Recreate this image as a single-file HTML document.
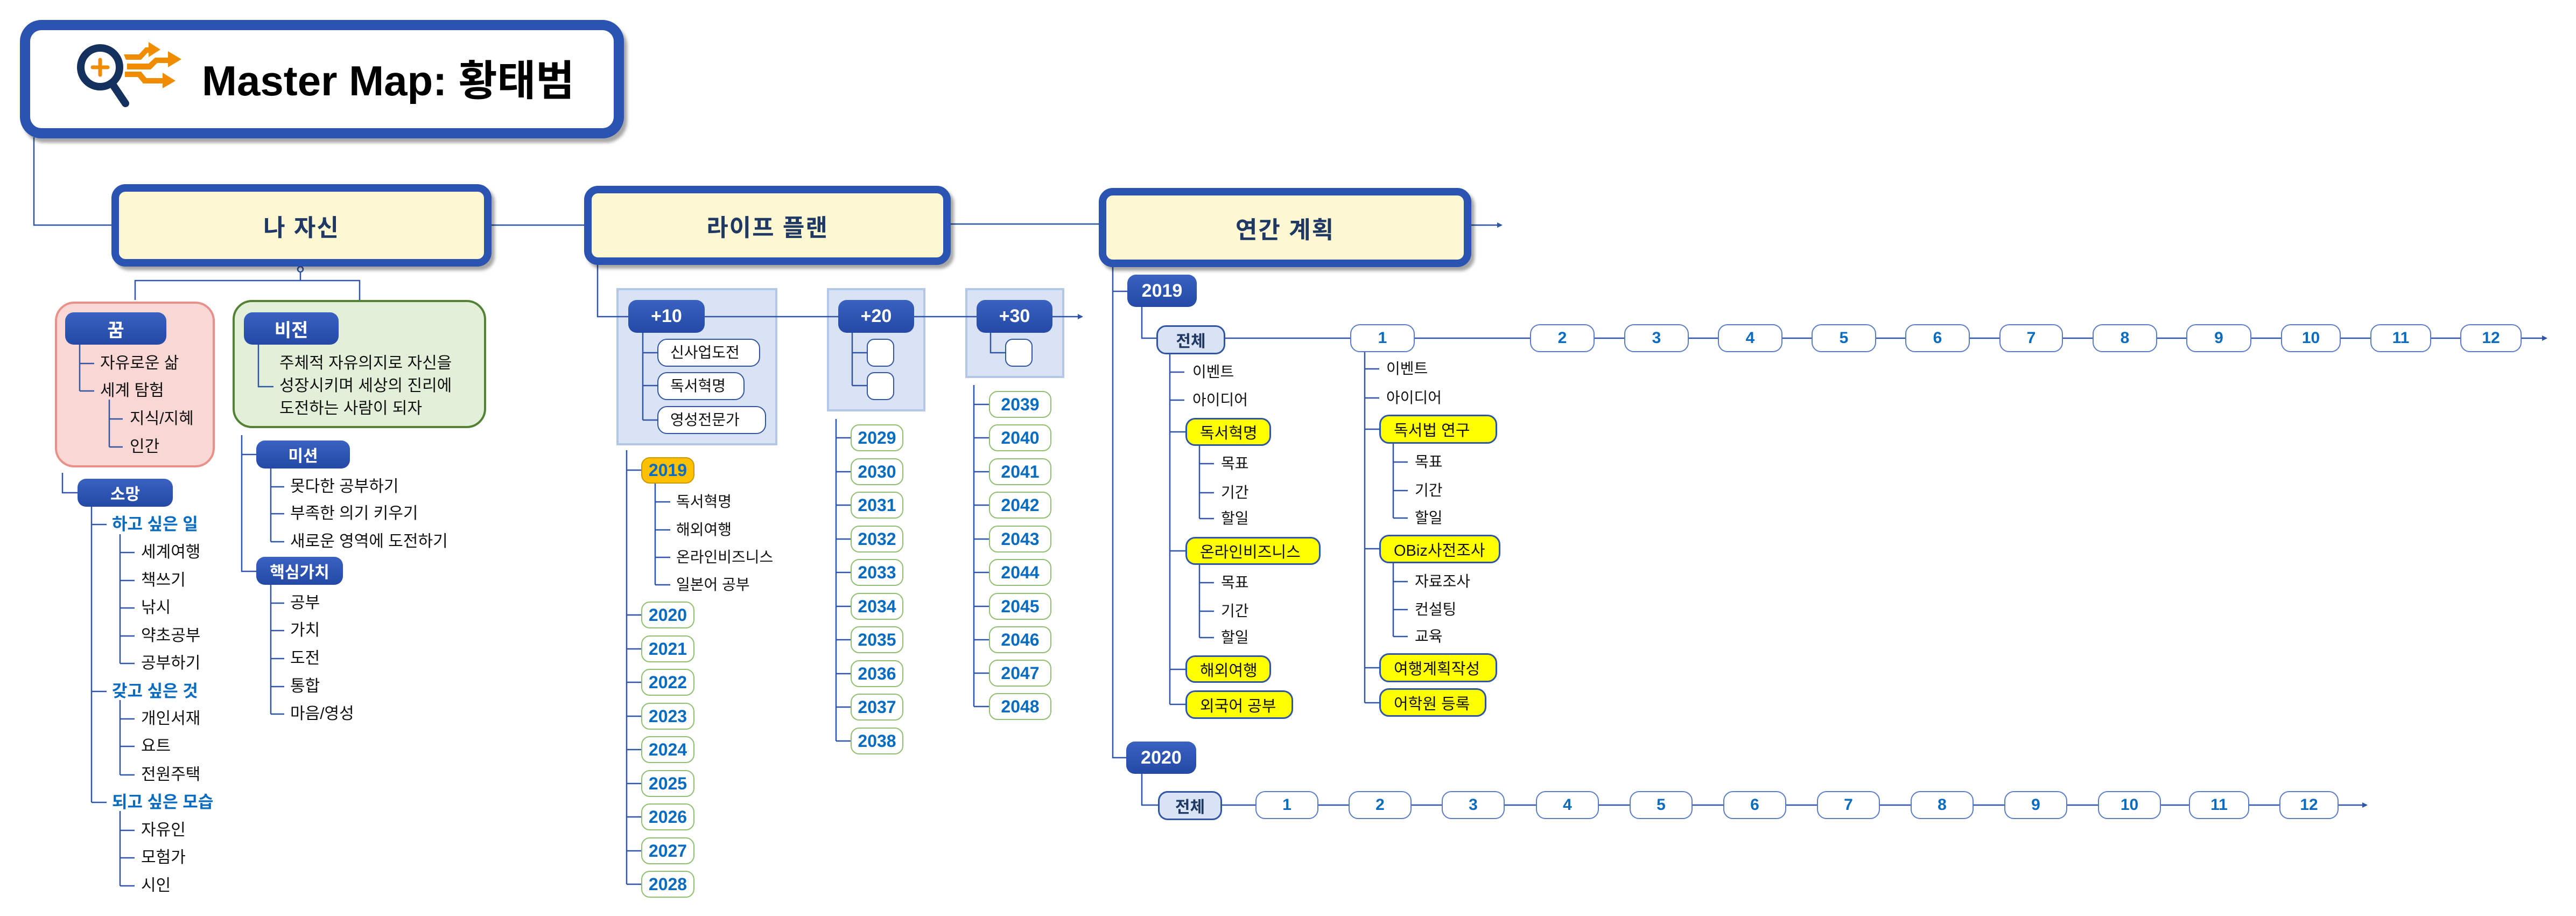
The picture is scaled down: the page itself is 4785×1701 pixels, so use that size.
<!DOCTYPE html>
<html><head><meta charset="utf-8">
<style>
*{margin:0;padding:0;box-sizing:border-box}
body{width:4785px;height:1701px;background:#fff;position:relative;overflow:hidden;font-family:"Liberation Sans","Noto Sans CJK KR",sans-serif;}
.a{position:absolute}
.t{position:absolute;white-space:nowrap;height:40px;line-height:40px;font-size:30px;color:#111}
.r{font-size:28px}
.main{position:absolute;background:#fdf7d2;border:14px solid #2b53b1;border-radius:26px;box-shadow:6px 7px 6px rgba(0,0,0,0.35);display:flex;align-items:center;justify-content:center;font-weight:bold;font-size:44px;color:#1f3864;letter-spacing:2px}
.pill{position:absolute;background:linear-gradient(#3a62c0,#2449a6);border-radius:16px;color:#fff;font-weight:bold;display:flex;align-items:center;justify-content:center;font-size:34px}
.grp{position:absolute;background:#dae3f3;border:4px solid #b4c7e7}
.wb{position:absolute;background:#fff;border:2px solid #2f55a4;border-radius:18px;font-size:28px;line-height:48px;padding-left:22px;color:#111;white-space:nowrap}
.yr{position:absolute;background:#fff;border:2px solid #8fbf6f;border-radius:16px;color:#0a6cc0;font-weight:bold;font-size:32px;display:flex;align-items:center;justify-content:center}
.mo{position:absolute;background:#fff;border:2px solid #5a7cc8;border-radius:18px;color:#0a6cc0;font-weight:bold;font-size:30px;display:flex;align-items:center;justify-content:center}
.yb{position:absolute;background:#ffff00;border:3px solid #2f55a4;border-radius:18px;font-size:29px;color:#111;display:flex;align-items:center;padding-left:24px;white-space:nowrap}
.bl{color:#0a6cc0;font-weight:bold;font-size:31px}
</style></head><body>

<!-- groups behind lines -->
<div class="grp" style="left:1145px;top:535px;width:299px;height:292px"></div>
<div class="grp" style="left:1536px;top:535px;width:183px;height:229px"></div>
<div class="grp" style="left:1793px;top:535px;width:184px;height:167px"></div>

<!-- other boxes behind lines -->
<div class="a" style="left:102px;top:560px;width:297px;height:308px;background:#f8d7d5;border:4px solid #e8908a;border-radius:36px"></div>
<div class="a" style="left:432px;top:557px;width:471px;height:238px;background:#e2f0d9;border:4px solid #548235;border-radius:36px"></div>

<svg class="a" style="left:0;top:0" width="4785" height="1701" viewBox="0 0 4785 1701">
<defs><marker id="ar" markerWidth="10" markerHeight="10" refX="8" refY="5" orient="auto" markerUnits="userSpaceOnUse"><path d="M0,0 L10,5 L0,10 z" fill="#2f55a4"/></marker></defs>
<g stroke="#2f55a4" stroke-width="2.5" fill="none">
<path d="M63 255 V418 H207"/>
<path d="M913 418 H1085"/>
<path d="M558 497 V521 M251 557 V521 H668 V557"/>
<circle cx="558" cy="500" r="5" fill="#fff"/>
<path d="M148 640 V726 M148 675 H175 M148 726 H175"/>
<path d="M203 742 V830 M203 778 H228 M203 830 H228"/>
<path d="M480 640 V718 H508"/>
<path d="M449 808 V1061 H476 M449 844 H476"/>
<path d="M503 870 V1006 M503 904 H528 M503 954 H528 M503 1006 H528"/>
<path d="M503 1086 V1326 M503 1120 H528 M503 1171 H528 M503 1223 H528 M503 1275 H528 M503 1326 H528"/>
<path d="M116 878 V915 H144"/>
<path d="M170 941 V1490 M170 974 H198 M170 1284 H198 M170 1490 H198"/>
<path d="M223 992 V1232 M223 1026 H250 M223 1078 H250 M223 1129 H250 M223 1181 H250 M223 1232 H250"/>
<path d="M223 1300 V1439 M223 1335 H250 M223 1386 H250 M223 1439 H250"/>
<path d="M223 1506 V1645 M223 1542 H250 M223 1593 H250 M223 1645 H250"/>

<path d="M1110 492 V588 H2010" marker-end="url(#ar)"/>
<path d="M1766 416 H2041"/>
<path d="M1194 617 V780 M1194 655 H1221 M1194 716 H1221 M1194 780 H1221"/>
<path d="M1583 617 V716 M1583 655 H1610 M1583 716 H1610"/>
<path d="M1840 617 V655 H1867"/>
<path d="M1164 836 V1642 M1164 873 H1191 M1164 1142 H1191 M1164 1205 H1191 M1164 1267 H1191 M1164 1330 H1191 M1164 1392 H1191 M1164 1455 H1191 M1164 1517 H1191 M1164 1580 H1191 M1164 1642 H1191"/>
<path d="M1217 898 V1086 M1217 932 H1245 M1217 984 H1245 M1217 1035 H1245 M1217 1086 H1245"/>
<path d="M1553 778 V1376 M1553 813 H1580 M1553 876 H1580 M1553 938 H1580 M1553 1001 H1580 M1553 1063 H1580 M1553 1126 H1580 M1553 1188 H1580 M1553 1251 H1580 M1553 1313 H1580 M1553 1376 H1580"/>
<path d="M1809 715 V1312 M1809 751 H1837 M1809 813 H1837 M1809 876 H1837 M1809 938 H1837 M1809 1001 H1837 M1809 1063 H1837 M1809 1126 H1837 M1809 1188 H1837 M1809 1250 H1837 M1809 1312 H1837"/>

<path d="M2733 418 H2789" marker-end="url(#ar)"/>
<path d="M2067 496 V1407 H2092 M2067 541 H2094"/>
<path d="M2121 570 V628 H2148"/>
<path d="M2276 628 H4730" marker-end="url(#ar)"/>
<path d="M2173 658 V1308 M2173 691 H2200 M2173 743 H2200 M2173 802 H2202 M2173 1023 H2202 M2173 1243 H2202 M2173 1308 H2202"/>
<path d="M2228 828 V963 M2228 861 H2255 M2228 915 H2255 M2228 963 H2255"/>
<path d="M2228 1049 V1184 M2228 1082 H2255 M2228 1135 H2255 M2228 1184 H2255"/>
<path d="M2535 654 V1305 M2535 685 H2562 M2535 739 H2562 M2535 797 H2562 M2535 1019 H2562 M2535 1240 H2562 M2535 1305 H2562"/>
<path d="M2588 824 V962 M2588 858 H2615 M2588 911 H2615 M2588 962 H2615"/>
<path d="M2588 1046 V1182 M2588 1080 H2615 M2588 1132 H2615 M2588 1182 H2615"/>
<path d="M2121 1437 V1495 H2151"/>
<path d="M2270 1495 H4396" marker-end="url(#ar)"/>
</g>
</svg>

<!-- title -->
<div class="a" style="left:37px;top:37px;width:1122px;height:220px;border:19px solid #2b53b1;border-radius:40px;background:#fff;box-shadow:6px 8px 6px rgba(0,0,0,0.35)"></div>
<svg class="a" style="left:130px;top:70px" width="220" height="140" viewBox="130 70 220 140">
<circle cx="186" cy="125" r="36" fill="none" stroke="#14315e" stroke-width="14"/>
<line x1="210" y1="158" x2="233" y2="192" stroke="#14315e" stroke-width="14" stroke-linecap="round"/>
<path d="M172 125 H200 M186 111 V139" stroke="#f08c00" stroke-width="7" stroke-linecap="round"/>
<path d="M230 101 L258 101 L270 88 L276 88 L276 78 L298 92 L276 106 L276 98 L274 98 L262 111 L234 111 Z" fill="#f08c00"/>
<path d="M236 118 L276 118 L288 107 L312 107 L312 95 L337 110 L312 125 L312 117 L292 117 L280 129 L236 129 Z" fill="#f08c00"/>
<path d="M232 133 L262 133 L272 145 L302 145 L302 135 L326 150 L302 164 L302 155 L266 155 L256 143 L232 143 Z" fill="#f08c00"/>
</svg>
<div class="a" style="left:375px;top:100px;height:100px;line-height:100px;font-size:78px;font-weight:bold;color:#000;white-space:nowrap">Master Map: 황태범</div>

<!-- main boxes -->
<div class="main" style="left:207px;top:342px;width:706px;height:153px">나 자신</div>
<div class="main" style="left:1085px;top:345px;width:681px;height:147px">라이프 플랜</div>
<div class="main" style="left:2041px;top:349px;width:692px;height:147px">연간 계획</div>

<!-- left section -->
<div class="pill" style="left:121px;top:580px;width:188px;height:60px">꿈</div>
<div class="t" style="left:186px;top:655px">자유로운 삶</div>
<div class="t" style="left:186px;top:706px">세계 탐험</div>
<div class="t" style="left:241px;top:758px">지식/지혜</div>
<div class="t" style="left:241px;top:810px">인간</div>
<div class="pill" style="left:453px;top:580px;width:176px;height:60px">비전</div>
<div class="a" style="left:519px;top:654px;font-size:30px;line-height:42px;color:#111">주체적 자유의지로 자신을<br>성장시키며 세상의 진리에<br>도전하는 사람이 되자</div>
<div class="pill" style="left:476px;top:818px;width:174px;height:52px;font-size:30px">미션</div>
<div class="t" style="left:539px;top:884px">못다한 공부하기</div>
<div class="t" style="left:539px;top:934px">부족한 의기 키우기</div>
<div class="t" style="left:539px;top:986px">새로운 영역에 도전하기</div>
<div class="pill" style="left:476px;top:1034px;width:161px;height:52px;font-size:30px">핵심가치</div>
<div class="t" style="left:539px;top:1100px">공부</div>
<div class="t" style="left:539px;top:1151px">가치</div>
<div class="t" style="left:539px;top:1203px">도전</div>
<div class="t" style="left:539px;top:1255px">통합</div>
<div class="t" style="left:539px;top:1306px">마음/영성</div>
<div class="pill" style="left:144px;top:889px;width:177px;height:52px;font-size:30px">소망</div>
<div class="t bl" style="left:208px;top:954px">하고 싶은 일</div>
<div class="t" style="left:262px;top:1006px">세계여행</div>
<div class="t" style="left:262px;top:1058px">책쓰기</div>
<div class="t" style="left:262px;top:1109px">낚시</div>
<div class="t" style="left:262px;top:1161px">약초공부</div>
<div class="t" style="left:262px;top:1212px">공부하기</div>
<div class="t bl" style="left:208px;top:1264px">갖고 싶은 것</div>
<div class="t" style="left:262px;top:1315px">개인서재</div>
<div class="t" style="left:262px;top:1366px">요트</div>
<div class="t" style="left:262px;top:1419px">전원주택</div>
<div class="t bl" style="left:208px;top:1470px">되고 싶은 모습</div>
<div class="t" style="left:262px;top:1522px">자유인</div>
<div class="t" style="left:262px;top:1573px">모험가</div>
<div class="t" style="left:262px;top:1625px">시인</div>

<!-- life plan -->
<div class="pill" style="left:1167px;top:557px;width:142px;height:61px">+10</div>
<div class="pill" style="left:1557px;top:557px;width:141px;height:61px">+20</div>
<div class="pill" style="left:1814px;top:557px;width:141px;height:61px">+30</div>
<div class="wb" style="left:1221px;top:629px;width:191px;height:52px">신사업도전</div>
<div class="wb" style="left:1221px;top:691px;width:162px;height:52px">독서혁명</div>
<div class="wb" style="left:1221px;top:754px;width:202px;height:52px">영성전문가</div>
<div class="wb" style="left:1610px;top:629px;width:51px;height:52px;border-radius:14px"></div>
<div class="wb" style="left:1610px;top:691px;width:51px;height:52px;border-radius:14px"></div>
<div class="wb" style="left:1867px;top:629px;width:51px;height:52px;border-radius:14px"></div>

<div class="yr" style="left:1191px;top:849px;width:99px;height:49px;background:#ffc000;border-color:#c99a00">2019</div>
<div class="t r" style="left:1256px;top:912px">독서혁명</div>
<div class="t r" style="left:1256px;top:964px">해외여행</div>
<div class="t r" style="left:1256px;top:1015px">온라인비즈니스</div>
<div class="t r" style="left:1256px;top:1066px">일본어 공부</div>
<div class="yr" style="left:1191px;top:1117px;width:99px;height:50px">2020</div>
<div class="yr" style="left:1191px;top:1180px;width:99px;height:50px">2021</div>
<div class="yr" style="left:1191px;top:1242px;width:99px;height:50px">2022</div>
<div class="yr" style="left:1191px;top:1305px;width:99px;height:50px">2023</div>
<div class="yr" style="left:1191px;top:1367px;width:99px;height:50px">2024</div>
<div class="yr" style="left:1191px;top:1430px;width:99px;height:50px">2025</div>
<div class="yr" style="left:1191px;top:1492px;width:99px;height:50px">2026</div>
<div class="yr" style="left:1191px;top:1555px;width:99px;height:50px">2027</div>
<div class="yr" style="left:1191px;top:1617px;width:99px;height:50px">2028</div>

<div class="yr" style="left:1580px;top:788px;width:98px;height:50px">2029</div>
<div class="yr" style="left:1580px;top:851px;width:98px;height:50px">2030</div>
<div class="yr" style="left:1580px;top:913px;width:98px;height:50px">2031</div>
<div class="yr" style="left:1580px;top:976px;width:98px;height:50px">2032</div>
<div class="yr" style="left:1580px;top:1038px;width:98px;height:50px">2033</div>
<div class="yr" style="left:1580px;top:1101px;width:98px;height:50px">2034</div>
<div class="yr" style="left:1580px;top:1163px;width:98px;height:50px">2035</div>
<div class="yr" style="left:1580px;top:1226px;width:98px;height:50px">2036</div>
<div class="yr" style="left:1580px;top:1288px;width:98px;height:50px">2037</div>
<div class="yr" style="left:1580px;top:1351px;width:98px;height:50px">2038</div>

<div class="yr" style="left:1837px;top:726px;width:116px;height:50px">2039</div>
<div class="yr" style="left:1837px;top:788px;width:116px;height:50px">2040</div>
<div class="yr" style="left:1837px;top:851px;width:116px;height:50px">2041</div>
<div class="yr" style="left:1837px;top:913px;width:116px;height:50px">2042</div>
<div class="yr" style="left:1837px;top:976px;width:116px;height:50px">2043</div>
<div class="yr" style="left:1837px;top:1038px;width:116px;height:50px">2044</div>
<div class="yr" style="left:1837px;top:1101px;width:116px;height:50px">2045</div>
<div class="yr" style="left:1837px;top:1163px;width:116px;height:50px">2046</div>
<div class="yr" style="left:1837px;top:1225px;width:116px;height:50px">2047</div>
<div class="yr" style="left:1837px;top:1287px;width:116px;height:50px">2048</div>

<!-- annual plan -->
<div class="pill" style="left:2094px;top:510px;width:129px;height:60px;font-size:34px">2019</div>
<div class="mo" style="left:2148px;top:604px;width:128px;height:54px;background:#dae3f3;border:3px solid #2f55a4;color:#1f3864">전체</div>
<div class="mo" style="left:2508px;top:602px;width:120px;height:52px">1</div>
<div class="mo" style="left:2842px;top:602px;width:120px;height:52px">2</div>
<div class="mo" style="left:3017px;top:602px;width:120px;height:52px">3</div>
<div class="mo" style="left:3191px;top:602px;width:120px;height:52px">4</div>
<div class="mo" style="left:3365px;top:602px;width:120px;height:52px">5</div>
<div class="mo" style="left:3539px;top:602px;width:120px;height:52px">6</div>
<div class="mo" style="left:3714px;top:602px;width:118px;height:52px">7</div>
<div class="mo" style="left:3887px;top:602px;width:120px;height:52px">8</div>
<div class="mo" style="left:4061px;top:602px;width:121px;height:52px">9</div>
<div class="mo" style="left:4237px;top:602px;width:111px;height:52px">10</div>
<div class="mo" style="left:4403px;top:602px;width:113px;height:52px">11</div>
<div class="mo" style="left:4570px;top:602px;width:114px;height:52px">12</div>

<div class="t r" style="left:2215px;top:671px">이벤트</div>
<div class="t r" style="left:2215px;top:723px">아이디어</div>
<div class="yb" style="left:2202px;top:776px;width:159px;height:52px">독서혁명</div>
<div class="t r" style="left:2268px;top:841px">목표</div>
<div class="t r" style="left:2268px;top:895px">기간</div>
<div class="t r" style="left:2268px;top:943px">할일</div>
<div class="yb" style="left:2202px;top:997px;width:251px;height:52px">온라인비즈니스</div>
<div class="t r" style="left:2268px;top:1062px">목표</div>
<div class="t r" style="left:2268px;top:1115px">기간</div>
<div class="t r" style="left:2268px;top:1164px">할일</div>
<div class="yb" style="left:2202px;top:1217px;width:159px;height:51px">해외여행</div>
<div class="yb" style="left:2202px;top:1282px;width:200px;height:53px">외국어 공부</div>

<div class="t r" style="left:2575px;top:665px">이벤트</div>
<div class="t r" style="left:2575px;top:719px">아이디어</div>
<div class="yb" style="left:2562px;top:770px;width:219px;height:54px">독서법 연구</div>
<div class="t r" style="left:2628px;top:838px">목표</div>
<div class="t r" style="left:2628px;top:891px">기간</div>
<div class="t r" style="left:2628px;top:942px">할일</div>
<div class="yb" style="left:2562px;top:993px;width:225px;height:53px">OBiz사전조사</div>
<div class="t r" style="left:2628px;top:1060px">자료조사</div>
<div class="t r" style="left:2628px;top:1112px">컨설팅</div>
<div class="t r" style="left:2628px;top:1162px">교육</div>
<div class="yb" style="left:2562px;top:1213px;width:219px;height:54px">여행계획작성</div>
<div class="yb" style="left:2562px;top:1278px;width:199px;height:53px">어학원 등록</div>

<div class="pill" style="left:2092px;top:1377px;width:130px;height:60px;font-size:34px">2020</div>
<div class="mo" style="left:2151px;top:1469px;width:119px;height:54px;background:#dae3f3;border:3px solid #2f55a4;color:#1f3864">전체</div>
<div class="mo" style="left:2332px;top:1469px;width:117px;height:52px">1</div>
<div class="mo" style="left:2505px;top:1469px;width:117px;height:52px">2</div>
<div class="mo" style="left:2678px;top:1469px;width:117px;height:52px">3</div>
<div class="mo" style="left:2853px;top:1469px;width:117px;height:52px">4</div>
<div class="mo" style="left:3027px;top:1469px;width:117px;height:52px">5</div>
<div class="mo" style="left:3201px;top:1469px;width:117px;height:52px">6</div>
<div class="mo" style="left:3375px;top:1469px;width:117px;height:52px">7</div>
<div class="mo" style="left:3549px;top:1469px;width:117px;height:52px">8</div>
<div class="mo" style="left:3723px;top:1469px;width:117px;height:52px">9</div>
<div class="mo" style="left:3897px;top:1469px;width:117px;height:52px">10</div>
<div class="mo" style="left:4066px;top:1469px;width:112px;height:52px">11</div>
<div class="mo" style="left:4234px;top:1469px;width:110px;height:52px">12</div>

</body></html>
